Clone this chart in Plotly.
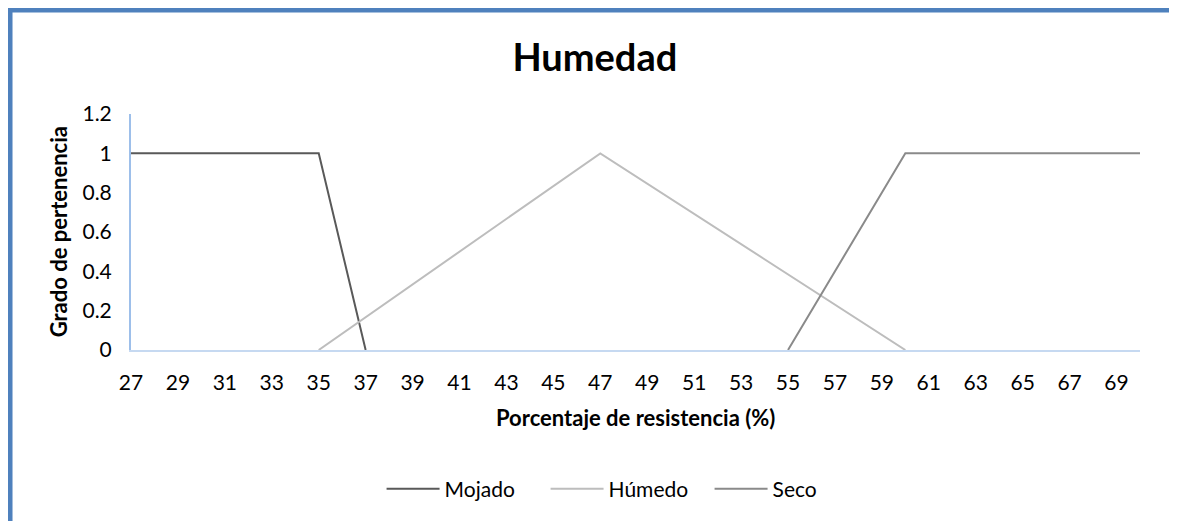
import plotly.graph_objects as go

# corner points of each membership function
mojado_x = [27, 35, 37]
mojado_y = [1, 1, 0]
humedo_x = [35, 47, 60]
humedo_y = [0, 1, 0]
seco_x = [55, 60, 70]
seco_y = [0, 1, 1]

tick_vals = list(range(27, 70, 2))
y_ticks = [0, 0.2, 0.4, 0.6, 0.8, 1, 1.2]
y_labels = ["0", "0.2", "0.4", "0.6", "0.8", "1", "1.2"]

FONT = "Lato"

fig = go.Figure()
fig.add_trace(go.Scatter(x=mojado_x, y=mojado_y, mode="lines", name="Mojado",
                         line=dict(color="#595959", width=2)))
fig.add_trace(go.Scatter(x=humedo_x, y=humedo_y, mode="lines", name="Húmedo",
                         line=dict(color="#BDBDBD", width=2)))
fig.add_trace(go.Scatter(x=seco_x, y=seco_y, mode="lines", name="Seco",
                         line=dict(color="#8A8A8A", width=2)))

# page has an 8px body margin, so the figure is sized 8px smaller
fig.update_layout(
    width=1169, height=513,
    margin=dict(l=123, r=37, t=106, b=171),
    paper_bgcolor="white", plot_bgcolor="white",
    font=dict(family=FONT, size=20, color="#000000"),
    title=dict(text="<b>Humedad</b>", x=0.502, xref="container", xanchor="center",
               y=0.904, yref="container", yanchor="middle",
               font=dict(size=38, family=FONT, color="#000000")),
    showlegend=True,
    legend=dict(orientation="h", x=0.53, xref="container", xanchor="center",
                y=0.062, yref="container", yanchor="middle",
                font=dict(size=21), itemwidth=53, entrywidth=96,
                entrywidthmode="pixels", traceorder="normal"),
    xaxis=dict(range=[27, 70], tickvals=tick_vals, showgrid=False, zeroline=False,
               showline=True, linecolor="#C6D9F1", linewidth=2,
               ticks="", ticklabelstandoff=13, tickfont=dict(size=21)),
    yaxis=dict(range=[0, 1.2], tickvals=y_ticks, ticktext=y_labels, showgrid=False,
               zeroline=False, showline=True, linecolor="#9DBFEA", linewidth=2,
               ticks="", ticklabelstandoff=13, tickfont=dict(size=21)),
    annotations=[
        dict(text="<b>Porcentaje de resistencia (%)</b>", xref="paper", yref="paper",
             x=0.5, y=-0.284, xanchor="center", yanchor="middle", showarrow=False,
             font=dict(size=22)),
        dict(text="<b>Grado de pertenencia</b>", xref="paper", yref="paper",
             x=-0.072, y=0.5, xanchor="center", yanchor="middle", showarrow=False,
             textangle=-90, font=dict(size=22)),
    ],
)

# chart frame (only left and top edges are visible in the reference)
fig.add_shape(type="line", xref="paper", yref="paper", x0=-0.1219, x1=1.05,
              y0=1.4407, y1=1.4407, line=dict(color="#4F81BD", width=5))
fig.add_shape(type="line", xref="paper", yref="paper", x0=-0.1199, x1=-0.1199,
              y0=1.45, y1=-0.75, line=dict(color="#4F81BD", width=5))

fig.write_html("out.html")
